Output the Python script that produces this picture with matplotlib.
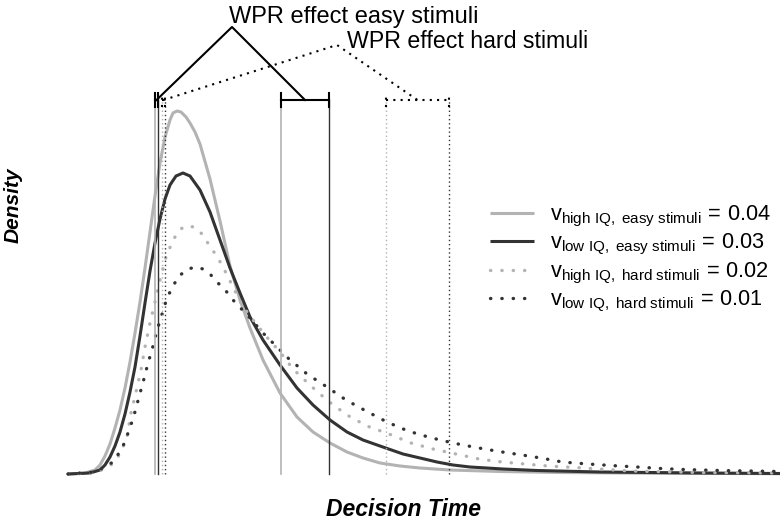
import matplotlib
matplotlib.use("Agg")
import matplotlib.pyplot as plt

plt.rcParams['font.family'] = ['Liberation Sans', 'DejaVu Sans']
plt.rcParams['mathtext.fontset'] = 'custom'
plt.rcParams['mathtext.rm'] = 'Liberation Sans'
plt.rcParams['mathtext.it'] = 'Liberation Sans:italic'

# densities (time, density)
t_high_easy = [0, 0.085, 0.135, 0.16, 0.185, 0.21, 0.235, 0.26, 0.285, 0.31, 0.335, 0.36, 0.385, 0.41,
               0.435, 0.46, 0.485, 0.51, 0.525, 0.545, 0.565, 0.59, 0.61, 0.635, 0.66, 0.71, 0.76,
               0.81, 0.86, 0.91, 0.975, 1.06, 1.145, 1.225, 1.31, 1.395, 1.475, 1.56, 1.66, 1.76,
               1.91, 2.16, 2.46, 2.91, 3.56]
d_high_easy = [0, 0.01, 0.04, 0.09, 0.18, 0.30, 0.46, 0.64, 0.86, 1.12, 1.41, 1.72, 2.06, 2.42,
               2.78, 3.11, 3.37, 3.54, 3.61, 3.63, 3.62, 3.57, 3.51, 3.42, 3.30, 2.95, 2.53,
               2.08, 1.74, 1.46, 1.14, 0.81, 0.57, 0.42, 0.31, 0.22, 0.16, 0.11, 0.08, 0.06,
               0.04, 0.025, 0.015, 0.008, 0.003]

t_low_easy = [0, 0.11, 0.16, 0.185, 0.21, 0.235, 0.26, 0.285, 0.31, 0.335, 0.36, 0.385, 0.41, 0.435,
              0.46, 0.485, 0.51, 0.54, 0.575, 0.61, 0.66, 0.71, 0.76, 0.81, 0.86, 0.91, 0.975, 1.06,
              1.145, 1.225, 1.31, 1.395, 1.475, 1.56, 1.675, 1.76, 1.845, 1.925, 2.01, 2.175, 2.345,
              2.66, 3.16, 3.56]
d_low_easy = [0, 0.01, 0.04, 0.09, 0.17, 0.28, 0.42, 0.60, 0.82, 1.07, 1.38, 1.71, 2.03, 2.31,
              2.55, 2.75, 2.89, 2.98, 3.01, 2.98, 2.84, 2.62, 2.34, 2.06, 1.81, 1.57, 1.34, 1.09,
              0.86, 0.69, 0.54, 0.42, 0.34, 0.28, 0.20, 0.16, 0.12, 0.09, 0.07, 0.05, 0.035,
              0.02, 0.01, 0.005]

t_high_hard = [0, 0.135, 0.21, 0.25, 0.275, 0.295, 0.315, 0.34, 0.365, 0.385, 0.41, 0.435, 0.46, 0.49,
               0.515, 0.54, 0.575, 0.61, 0.64, 0.675, 0.705, 0.74, 0.77, 0.795, 0.835, 0.87, 0.91,
               0.945, 0.985, 1.06, 1.125, 1.215, 1.30, 1.395, 1.495, 1.605, 1.715, 1.825, 1.94, 2.055,
               2.17, 2.285, 2.40, 2.575, 2.81, 3.16, 3.56]
d_high_hard = [0, 0.01, 0.08, 0.17, 0.27, 0.37, 0.61, 0.82, 1.04, 1.27, 1.51, 1.72, 1.94, 2.17,
               2.29, 2.39, 2.47, 2.48, 2.46, 2.39, 2.29, 2.19, 2.09, 1.99, 1.83, 1.69, 1.58,
               1.49, 1.39, 1.22, 1.05, 0.88, 0.73, 0.59, 0.48, 0.40, 0.31, 0.25, 0.20, 0.15,
               0.12, 0.10, 0.08, 0.06, 0.03, 0.015, 0.01]

t_low_hard = [0, 0.135, 0.175, 0.225, 0.255, 0.285, 0.305, 0.325, 0.34, 0.355, 0.37, 0.385, 0.40, 0.42,
              0.445, 0.465, 0.48, 0.50, 0.525, 0.555, 0.60, 0.64, 0.675, 0.71, 0.75, 0.79, 0.825, 0.91,
              0.975, 1.10, 1.195, 1.295, 1.39, 1.49, 1.595, 1.70, 1.81, 1.925, 2.04, 2.155, 2.27, 2.38,
              2.44, 2.50, 2.615, 2.73, 2.845, 2.965, 3.08, 3.26, 3.56]
d_low_hard = [0, 0.02, 0.06, 0.12, 0.21, 0.32, 0.44, 0.55, 0.66, 0.77, 0.88, 0.99, 1.11, 1.24,
              1.44, 1.56, 1.67, 1.78, 1.88, 1.98, 2.05, 2.07, 2.05, 2.00, 1.91, 1.83, 1.74, 1.56,
              1.41, 1.16, 1.00, 0.87, 0.74, 0.63, 0.52, 0.43, 0.365, 0.31, 0.265, 0.225, 0.19, 0.155,
              0.13, 0.115, 0.098, 0.083, 0.07, 0.055, 0.045, 0.035, 0.025]

drift = [0.04, 0.03, 0.02, 0.01]
names = ['high IQ, easy stimuli', 'low IQ, easy stimuli', 'high IQ, hard stimuli', 'low IQ, hard stimuli']
fast_bin = [0.435, 0.45, 0.47, 0.485]   # vertical lines left
slow_bin = [1.065, 1.305, 1.59, 1.905]  # vertical lines right

light = '#b3b3b3'
dark = '#333333'
dots = (0, (0.1, 3.3))

fig = plt.figure(figsize=(7.8, 5.23), dpi=100)
ax = fig.add_axes([68/780, 49/523, 712/780, 380/523])
ax.set_xlim(0, 3.56)
ax.set_ylim(0, 3.8)
ax.axis('off')

curves = [(t_high_easy, d_high_easy, light, '-', 2.2),
          (t_low_easy, d_low_easy, dark, '-', 2.2),
          (t_high_hard, d_high_hard, light, dots, 2.4),
          (t_low_hard, d_low_hard, dark, dots, 2.4)]
handles = []
for (t, d, c, ls, lw), v, nm in zip(curves, drift, names):
    h, = ax.plot(t, d, color=c, ls=ls, lw=lw, solid_capstyle='butt', solid_joinstyle='round',
                 dash_capstyle='round', clip_on=False)
    h.set_label(r'$\mathrm{v}_{\mathrm{%s}}\,=\,\mathrm{%s}$' % (nm.replace(' ', r'\ '), v))
    handles.append(h)

top = 3.74
vstyles = [(light, '-', 1.2), (dark, '-', 1.0), (light, (0, (1, 2)), 1.0), (dark, (0, (1, 2)), 1.0)]
for xf, xs, (c, ls, lw) in zip(fast_bin, slow_bin, vstyles):
    ax.plot([xf, xf], [0, top], color=c, ls=ls, lw=lw, clip_on=False)
    ax.plot([xs, xs], [0, top], color=c, ls=ls, lw=lw, clip_on=False)

# brackets
def bracket(x0, x1, ls):
    ax.plot([x0, x1], [top, top], color='black', ls=ls, lw=1.5, clip_on=False)
    for x in (x0, x1):
        ax.plot([x, x], [top - 0.07, top + 0.07], color='black', ls=ls, lw=1.5, clip_on=False)

bracket(fast_bin[0], fast_bin[1], '-')
bracket(slow_bin[0], slow_bin[1], '-')
bracket(fast_bin[2], fast_bin[3], (0, (1, 2.5)))
bracket(slow_bin[2], slow_bin[3], (0, (1, 2.5)))

apex_easy = (0.82, 4.47)
apex_hard = (1.345, 4.29)
ax.plot([(fast_bin[0] + fast_bin[1]) / 2, apex_easy[0], (slow_bin[0] + slow_bin[1]) / 2],
        [top, apex_easy[1], top], color='black', lw=1.5, clip_on=False)
ax.plot([(fast_bin[2] + fast_bin[3]) / 2, apex_hard[0], (slow_bin[2] + slow_bin[3]) / 2],
        [top, apex_hard[1], top], color='black', lw=1.5, ls=(0, (1, 2.5)), clip_on=False)
ax.text(0.805, 4.57, 'WPR effect easy stimuli', fontsize=17, ha='left', va='center', clip_on=False)
ax.text(1.395, 4.32, 'WPR effect hard stimuli', fontsize=16.7, ha='left', va='center', clip_on=False)

fig.text(13/780, 1 - 205/523, 'Density', rotation=90, fontsize=15, fontweight='bold',
         fontstyle='italic', ha='center', va='center')
fig.text(403/780, 1 - 509/523, 'Decision Time', fontsize=16.5, fontweight='bold',
         fontstyle='italic', ha='center', va='center')

ax.legend(handles=handles, loc='upper left', bbox_to_anchor=(490/780, 1 - 204/523),
          bbox_transform=fig.transFigure, frameon=False, fontsize=15.7, handlelength=2.0,
          handletextpad=0.75, labelspacing=0.15, borderpad=0, borderaxespad=0)

fig.savefig('out.png', dpi=100)
